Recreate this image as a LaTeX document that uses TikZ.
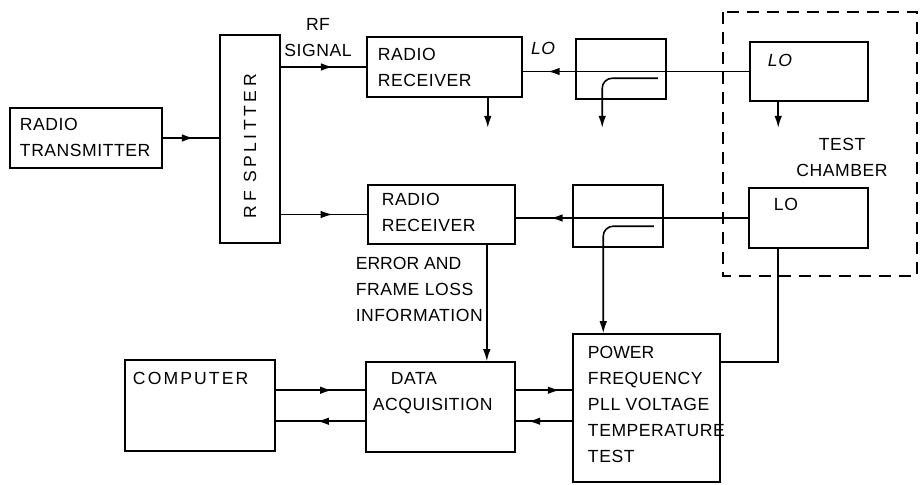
\documentclass[tikz,border=0pt]{standalone}
\usepackage{fontspec}
\setmainfont{Liberation Sans}[LetterSpace=3]
\usetikzlibrary{arrows.meta, positioning, calc, decorations.markings}
\tikzset{
  every picture/.style={line width=1.1pt},
  box/.style={draw, rectangle, inner sep=0pt},
  txt/.style={font=\fontsize{12.5}{18.5}\selectfont, align=left, inner sep=0pt},
  tip/.style={-{Latex[length=3mm, width=1.9mm]}},
  midtip/.style={postaction={decorate}, decoration={markings,
      mark=at position #1 with {\arrow{Latex[length=3mm, width=1.9mm]}}}},
  midtip/.default=0.6,
  chamber/.style={dash pattern=on 3mm off 2mm, line width=1pt},
}

\begin{document}
\begin{tikzpicture}[x=0.025cm, y=-0.025cm]
  \useasboundingbox (0,0) rectangle (921,485);

  % blocks
  \node[box, minimum width=3.8cm, minimum height=1.5cm] (tx) at (86,138) {};
  \node[box, minimum width=1.5cm, minimum height=5.2cm] (split) at (250,139) {};
  \node[box, minimum width=3.875cm, minimum height=1.5cm] (rx1) at (444.5,67) {};
  \node[box, minimum width=2.25cm, minimum height=1.5cm] (cp1) at (621,69) {};
  \node[box, minimum width=2.95cm, minimum height=1.475cm] (lo1) at (809,71.5) {};
  \node[box, minimum width=3.675cm, minimum height=1.475cm] (rx2) at (441.5,214.5) {};
  \node[box, minimum width=2.25cm, minimum height=1.55cm] (cp2) at (618,216) {};
  \node[box, minimum width=2.975cm, minimum height=1.5cm] (lo2) at (808.5,218) {};
  \node[box, minimum width=3.75cm, minimum height=2.275cm] (comp) at (200,405.5) {};
  \node[box, minimum width=3.725cm, minimum height=2.25cm] (daq) at (440.5,407) {};
  \node[box, minimum width=3.675cm, minimum height=3.7cm] (pwr) at (646.5,408) {};

  % texts in the blocks
  \node[txt, below right=0.25cm and 0.25cm of tx.north west] (txtxt) {RADIO\\TRANSMITTER};
  \node[txt, rotate=90] (splittxt) at ($(split.center)+(0,-0.18cm)$)
    {\addfontfeature{LetterSpace=20}RF SPLITTER};
  \node[txt, below right=0.275cm and 0.275cm of rx1.north west] (rx1txt) {RADIO\\RECEIVER};
  \node[txt, below right=0.2cm and 0.35cm of rx2.north west] (rx2txt) {RADIO\\RECEIVER};
  \node[txt, font=\fontsize{12.5}{18.5}\selectfont\itshape, below right=0.3cm and 0.45cm of lo1.north west] (lo1txt) {LO};
  \node[txt, below right=0.25cm and 0.625cm of lo2.north west] (lo2txt) {LO};
  \node[txt, below right=0.3cm and 0.2cm of comp.north west] (comptxt)
    {\addfontfeature{LetterSpace=12}COMPUTER};
  \node[txt, below right=0.25cm and 0.175cm of daq.north west] (daqtxt) {\hspace*{0.45cm}DATA\\ACQUISITION};
  \node[txt, below right=0.3cm and 0.375cm of pwr.north west] (pwrtxt)
    {\addfontfeature{LetterSpace=0}POWER\\FREQUENCY\\PLL VOLTAGE\\TEMPERATURE\\TEST};

  % free labels
  \node[txt, align=center] (rflbl) at (318,38) {RF\\SIGNAL};
  \node[txt, font=\fontsize{12.5}{18.5}\selectfont\itshape] (lolbl) at (543,48) {LO};
  \node[txt, align=center] (chamberlbl) at (842,157) {TEST\\CHAMBER};
  \node[txt, anchor=west] (errlbl) at (355,289)
    {\addfontfeature{LetterSpace=0}ERROR AND\\FRAME LOSS\\INFORMATION};

  % test chamber
  \draw[chamber] (723,12) rectangle (917,276);

  % signal paths
  \draw[midtip=0.55] (tx.east) -- (tx.east -| split.west);
  \draw[midtip=0.61] (split.east |- rx1.west) -- (rx1.west);
  \draw[midtip=0.6] (split.east |- rx2.west) -- (rx2.west);
  \draw[midtip=0.89] (lo1.west) -- (lo1.west -| rx1.east);
  \draw[midtip=0.85] (lo2.west) -- (lo2.west -| rx2.east);

  \coordinate (rx1out) at ($(rx1.south east)+(-0.875cm,0)$);
  \coordinate (rx1end) at ($(rx1out)+(0,-0.75cm)$);
  \draw[tip] (rx1out) -- (rx1end);
  \coordinate (lo1out) at ($(lo1.south west)+(0.725cm,0)$);
  \coordinate (lo1end) at ($(lo1out)+(0,-0.65cm)$);
  \draw[tip] (lo1out) -- (lo1end);

  % couplers
  \coordinate (cp1in) at ($(cp1.north east)+(-0.225cm,-1.0cm)$);
  \coordinate (cp1out) at ($(cp1.south west)+(0.675cm,0)$);
  \coordinate (cp1end) at ($(cp1out)+(0,-0.7cm)$);
  \draw[tip, rounded corners=0.25cm] (cp1in) -- (cp1in -| cp1out) -- (cp1end);
  \coordinate (cp2in) at ($(cp2.north east)+(-0.25cm,-1.05cm)$);
  \coordinate (cp2out) at ($(cp2.south west)+(0.775cm,0)$);
  \draw[tip, rounded corners=0.25cm] (cp2in) -- (cp2in -| cp2out) -- (cp2out |- pwr.north);

  \coordinate (rx2out) at ($(rx2.south east)+(-0.725cm,0)$);
  \draw[tip] (rx2out) -- (rx2out |- daq.north);
  \coordinate (lo2out) at ($(lo2.south west)+(0.75cm,0)$);
  \coordinate (pwrin) at ($(pwr.north east)+(0,-0.725cm)$);
  \draw (lo2out) |- (pwrin);

  % data links
  \coordinate (link1) at ($(comp.north east)+(0,-0.775cm)$);
  \coordinate (link2) at ($(comp.north east)+(0,-1.55cm)$);
  \draw[midtip=0.63] (link1) -- (link1 -| daq.west);
  \draw[midtip=0.54] (link2 -| daq.west) -- (link2);
  \draw[midtip=0.78] (link1 -| daq.east) -- (link1 -| pwr.west);
  \draw[midtip=0.78] (link2 -| pwr.west) -- (link2 -| daq.east);
\end{tikzpicture}
\end{document}
